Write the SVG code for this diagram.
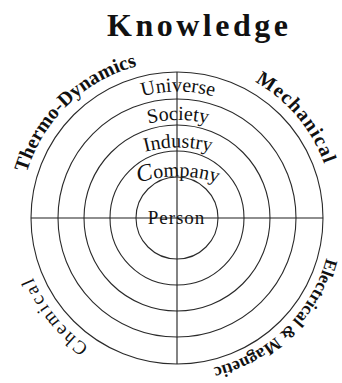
<svg xmlns="http://www.w3.org/2000/svg" width="342" height="383" viewBox="0 0 342 383">
<style>
.ring{fill:none;stroke:#2a2a2a;stroke-width:1.1}
.axis{stroke:#1e1e1e;stroke-width:1.1}
.t{font-family:"Liberation Serif","Times New Roman",serif;fill:#111}
.in{font-size:20px}
.out{font-size:20px;font-weight:bold}
</style>
<defs>
<path id="pThermo" d="M24.7,256 A157,157 0 0 1 220.3,67.1"/>
<path id="pMech" d="M149.7,63.4 A157,157 0 0 1 324.5,271.7"/>
<path id="pChem" d="M200.1,372.3 A156,156 0 0 1 31.9,160.8"/>
<path id="pElec" d="M325.8,176.5 A154,154 0 0 1 131.9,365.2"/>
<path id="pUni" d="M108,112 A130,130 0 0 1 248,112"/>
<path id="pSoc" d="M108,140.5 A130,130 0 0 1 248,140.5"/>
<path id="pInd" d="M108,168 A130,130 0 0 1 248,168"/>
<path id="pCom" d="M108,197 A130,130 0 0 1 248,197"/>
</defs>
<g id="title"><text class="t" x="107" y="36" font-size="32" font-weight="bold" letter-spacing="3.5">Knowledge</text></g>
<g id="universe"><circle class="ring" cx="177" cy="218" r="146"/><text class="t in" text-anchor="middle"><textPath href="#pUni" startOffset="50%">Universe</textPath></text></g>
<g id="society"><circle class="ring" cx="177" cy="218" r="119"/><text class="t in" text-anchor="middle"><textPath href="#pSoc" startOffset="50%">Society</textPath></text></g>
<g id="industry"><circle class="ring" cx="177" cy="218" r="93"/><text class="t in" text-anchor="middle"><textPath href="#pInd" startOffset="50%">Industry</textPath></text></g>
<g id="company"><circle class="ring" cx="177" cy="218" r="67"/><text class="t" font-size="20" text-anchor="middle"><textPath href="#pCom" startOffset="50%"><tspan font-size="24" font-style="italic">C</tspan>ompany</textPath></text></g>
<g id="person"><circle class="ring" cx="177" cy="218" r="41"/></g>
<g id="connectors"><line class="axis" x1="31" y1="218" x2="323" y2="218"/><line class="axis" x1="177" y1="72" x2="177" y2="364"/></g>
<g id="person-label"><text class="t" x="176.5" y="224" font-size="19" letter-spacing="1" text-anchor="middle">Person</text></g>
<g id="thermo"><text class="t out" text-anchor="middle"><textPath href="#pThermo" startOffset="50%">Thermo-Dynamics</textPath></text></g>
<g id="mechanical"><text class="t out" letter-spacing="1.2" text-anchor="middle"><textPath href="#pMech" startOffset="50%">Mechanical</textPath></text></g>
<g id="chemical"><text class="t" font-size="19" letter-spacing="2.5" text-anchor="middle"><textPath href="#pChem" startOffset="50%">Chemical</textPath></text></g>
<g id="electrical"><text class="t" font-size="17.5" font-weight="bold" text-anchor="middle"><textPath href="#pElec" startOffset="50%">Electrical &amp; Magnetic</textPath></text></g>
</svg>
